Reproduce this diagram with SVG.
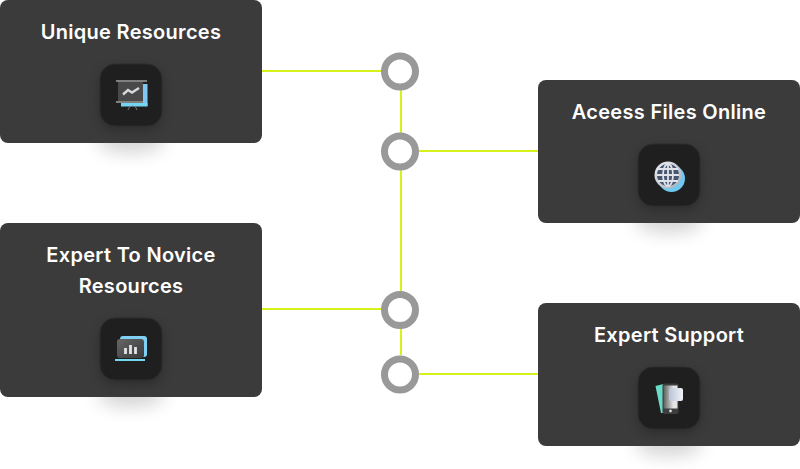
<svg xmlns="http://www.w3.org/2000/svg" width="800" height="469" viewBox="0 0 800 469">
<style>
.card{fill:#3b3b3b}
.box{fill:#1f1f1f;stroke:#2c2c2c;stroke-width:1}
.t{font-family:Inter,"Liberation Sans",sans-serif;font-weight:600;font-size:20px;letter-spacing:.3px;fill:#fff;text-anchor:middle}
.c{fill:#fff;stroke:#999;stroke-width:7}
.l{fill:none;stroke:#d6f21a;stroke-width:2}
.sh{fill:#000;opacity:.17}
</style>
<defs>
<filter id="b1" x="-80%" y="-150%" width="260%" height="400%"><feGaussianBlur stdDeviation="9"/></filter>
<filter id="b2" x="-60%" y="-60%" width="220%" height="220%"><feGaussianBlur stdDeviation="6"/></filter>
<filter id="s" x="-30%" y="-30%" width="160%" height="160%"><feGaussianBlur stdDeviation=".6"/></filter>
<linearGradient id="g" x1="0" y1="0" x2="1" y2="1"><stop offset="0" stop-color="#f0f1f4"/><stop offset="1" stop-color="#a4adba"/></linearGradient>
<linearGradient id="g2" x1="0" y1="0" x2="1" y2="1"><stop offset="0" stop-color="#666"/><stop offset="1" stop-color="#3a3a3a"/></linearGradient>
<linearGradient id="g3" x1="0" y1="0" x2="1" y2="0"><stop offset="0" stop-color="#5c5c5c"/><stop offset=".7" stop-color="#e4e4e4"/></linearGradient>
<linearGradient id="g4" x1="0" y1="0" x2="1" y2="0"><stop offset="0" stop-color="#b8c4d6"/><stop offset="1" stop-color="#f2f4f7"/></linearGradient>
</defs>
<g id="connectors">
<path class="l" d="M262 71H382M401 90V355M419 151H538M262 309H382M419 374H538"/>
</g>
<g id="junctions">
<circle class="c" cx="400" cy="71.500" r="15.500"/>
<circle class="c" cx="400" cy="151.500" r="15.500"/>
<circle class="c" cx="400" cy="310" r="15.500"/>
<circle class="c" cx="400" cy="374.500" r="15.500"/>
</g>
<g id="unique-resources">
<ellipse class="sh" cx="131" cy="140" rx="34" ry="13" filter="url(#b1)"/>
<rect class="card" x="0" y="0" width="262" height="143" rx="8"/>
<rect x="100" y="68" width="62" height="62" rx="15" fill="#000" opacity=".25" filter="url(#b2)"/>
<rect class="box" x="100" y="64" width="62" height="62" rx="15"/>
<text class="t" x="131" y="39">Unique Resources</text>
<g filter="url(#s)">
<rect x="143" y="84" width="4.500" height="22" fill="#7fc6f2"/>
<rect x="121" y="103" width="26.500" height="3.500" fill="#74d4f2"/>
<path d="M130 106l-2 4M132 106h1M135 106l2 4" stroke="#777" fill="none"/>
<rect x="118" y="81" width="25" height="22" fill="#484848"/>
<path d="M116 81h31M116 102h27" stroke="#808080" stroke-width="1.800"/>
<path d="M123 94.500l5-4.500 4 2.500 7-4.500" stroke="#d6d9de" stroke-width="2.400" fill="none"/>
</g>
</g>
<g id="access-files">
<ellipse class="sh" cx="669" cy="220" rx="34" ry="13" filter="url(#b1)"/>
<rect class="card" x="538" y="80" width="262" height="143" rx="8"/>
<rect x="638" y="148" width="62" height="62" rx="15" fill="#000" opacity=".25" filter="url(#b2)"/>
<rect class="box" x="638" y="144" width="62" height="62" rx="15"/>
<text class="t" x="669" y="119">Aceess Files Online</text>
<g filter="url(#s)">
<circle cx="671.500" cy="178.500" r="13.500" fill="#6fc8ee"/>
<circle cx="668" cy="175" r="13.500" fill="url(#g)"/>
<circle cx="668" cy="175" r="11" fill="#46566e"/>
<g fill="none" stroke="#dfe2e8" stroke-width="1.800"><ellipse cx="668" cy="175" rx="5" ry="11"/><path d="M657 175h22M658 169h20M658 181h20M668 164v22"/></g>
</g>
</g>
<g id="expert-novice">
<ellipse class="sh" cx="131" cy="394" rx="34" ry="13" filter="url(#b1)"/>
<rect class="card" x="0" y="223" width="262" height="174" rx="8"/>
<rect x="100" y="322" width="62" height="62" rx="15" fill="#000" opacity=".25" filter="url(#b2)"/>
<rect class="box" x="100" y="318" width="62" height="62" rx="15"/>
<text class="t" x="131" y="262">Expert To Novice</text>
<text class="t" x="131" y="293">Resources</text>
<g filter="url(#s)">
<rect x="120" y="336" width="27" height="21" rx="3" fill="#7fd0f5"/>
<rect x="117" y="339" width="27" height="19" rx="3" fill="url(#g2)"/>
<rect x="115" y="359" width="30" height="2" fill="#74d8ee"/>
<path d="M125.500 348v6M130.500 345v9M135.500 347v7" stroke="#e0e3e8" stroke-width="2.800"/>
</g>
</g>
<g id="expert-support">
<ellipse class="sh" cx="669" cy="443" rx="34" ry="13" filter="url(#b1)"/>
<rect class="card" x="538" y="303" width="262" height="143" rx="8"/>
<rect x="638" y="371" width="62" height="62" rx="15" fill="#000" opacity=".25" filter="url(#b2)"/>
<rect class="box" x="638" y="367" width="62" height="62" rx="15"/>
<text class="t" x="669" y="342">Expert Support</text>
<g filter="url(#s)">
<path d="M655.500 386l8-2 3 29-5.500 0z" fill="#69dcc8"/>
<rect x="662.500" y="383.500" width="16" height="30.500" rx="2" fill="#3c3c3c"/>
<rect x="663.500" y="385.500" width="14" height="23" fill="url(#g3)"/>
<circle cx="670.500" cy="411" r="1.400" fill="#ddd"/>
<rect x="669" y="388" width="14" height="13" rx="2" fill="url(#g4)"/>
</g>
</g>
</svg>
